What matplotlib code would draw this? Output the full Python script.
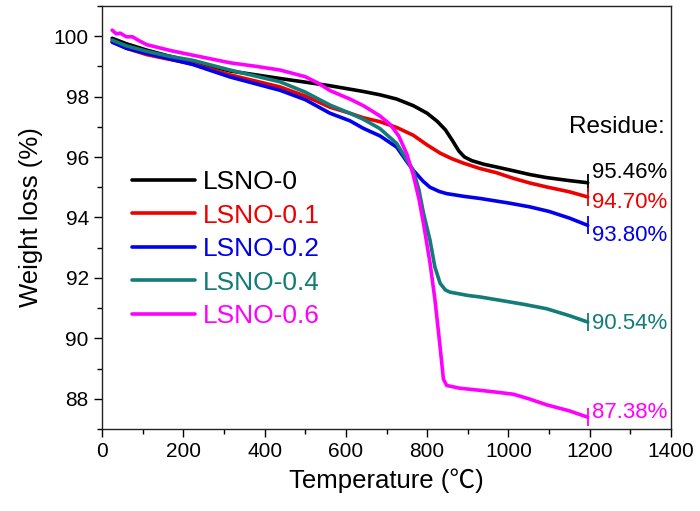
import matplotlib
matplotlib.use("Agg")
import matplotlib.pyplot as plt
from matplotlib.ticker import MultipleLocator

plt.rcParams['font.family'] = ['Liberation Sans', 'Noto Sans CJK SC', 'DejaVu Sans']

names = ["LSNO-0", "LSNO-0.1", "LSNO-0.2", "LSNO-0.4", "LSNO-0.6"]
colors = ["#000000", "#EE0000", "#0000EE", "#127C78", "#FF00FF"]
residue_labels = ["95.46%", "94.70%", "93.80%", "90.54%", "87.38%"]
residue_label_y = [95.50, 94.51, 93.41, 90.49, 87.56]

t_lsno0 = [25, 60, 110, 160, 224, 315, 438, 500, 561, 643, 684, 725, 766, 800, 825, 845, 862, 878, 892, 910, 940, 971, 1011, 1053, 1094, 1150, 1195]
w_lsno0 = [99.93, 99.75, 99.54, 99.36, 99.15, 98.85, 98.6, 98.48, 98.36, 98.17, 98.06, 97.92, 97.7, 97.45, 97.18, 96.9, 96.55, 96.2, 96.0, 95.88, 95.76, 95.67, 95.55, 95.42, 95.32, 95.22, 95.15]

t_lsno01 = [25, 60, 110, 160, 224, 315, 438, 500, 561, 610, 643, 684, 725, 766, 800, 832, 860, 889, 930, 971, 1011, 1053, 1094, 1150, 1195]
w_lsno01 = [99.83, 99.6, 99.39, 99.25, 99.08, 98.72, 98.32, 98.02, 97.65, 97.45, 97.3, 97.17, 96.98, 96.72, 96.4, 96.13, 95.95, 95.8, 95.62, 95.48, 95.3, 95.14, 95.01, 94.85, 94.68]

t_lsno02 = [25, 60, 110, 160, 224, 315, 438, 500, 561, 610, 643, 684, 725, 750, 766, 790, 807, 830, 848, 890, 930, 1000, 1053, 1100, 1150, 1195]
w_lsno02 = [99.8, 99.6, 99.43, 99.27, 99.06, 98.65, 98.21, 97.9, 97.45, 97.2, 96.95, 96.7, 96.33, 95.85, 95.56, 95.2, 95.0, 94.86, 94.79, 94.7, 94.63, 94.48, 94.35, 94.2, 93.98, 93.74]

t_lsno04 = [25, 60, 110, 160, 224, 315, 438, 500, 561, 610, 643, 684, 725, 750, 766, 780, 791, 807, 819, 832, 845, 856, 900, 930, 979, 1040, 1094, 1150, 1195]
w_lsno04 = [99.87, 99.68, 99.5, 99.35, 99.2, 98.88, 98.49, 98.15, 97.72, 97.45, 97.25, 96.94, 96.45, 95.9, 95.56, 94.9, 94.14, 93.25, 92.36, 91.82, 91.6, 91.53, 91.42, 91.37, 91.26, 91.12, 90.98, 90.75, 90.54]

t_lsno06 = [25, 35, 45, 60, 75, 90, 110, 140, 170, 224, 315, 380, 438, 500, 530, 561, 610, 643, 684, 709, 730, 750, 766, 780, 791, 807, 819, 832, 840, 848, 880, 930, 970, 1012, 1050, 1094, 1150, 1195]
w_lsno06 = [100.2, 100.08, 100.1, 99.98, 99.98, 99.86, 99.72, 99.62, 99.52, 99.37, 99.12, 99.0, 98.88, 98.66, 98.46, 98.2, 97.92, 97.7, 97.36, 97.08, 96.7, 96.1, 95.4, 94.6, 93.8, 92.5, 91.3, 89.7, 88.65, 88.44, 88.35, 88.28, 88.22, 88.15, 88.0, 87.8, 87.6, 87.39]

series_t = [t_lsno0, t_lsno01, t_lsno02, t_lsno04, t_lsno06]
series_w = [w_lsno0, w_lsno01, w_lsno02, w_lsno04, w_lsno06]

fig = plt.figure(figsize=(7.0, 5.11), dpi=100)
ax = fig.add_axes([0.1457, 0.1605, 0.8129, 0.8278])

for t, w, c, n in zip(series_t, series_w, colors, names):
    ax.plot(t, w, color=c, lw=2.6, label=n, solid_capstyle='round', solid_joinstyle='round')
    ax.plot([t[-1]], [w[-1]], marker='|', color=c, markersize=13, mew=1.3)

for lab, y, c in zip(residue_labels, residue_label_y, colors):
    ax.text(1206, y, lab, color=c, fontsize=16, ha='left', va='center')
ax.text(1150, 97.0, "Residue:", color='black', fontsize=17.5, ha='left', va='center')

ax.set_xlim(0, 1400)
ax.set_ylim(87, 101)
ax.xaxis.set_major_locator(MultipleLocator(200))
ax.xaxis.set_minor_locator(MultipleLocator(100))
ax.yaxis.set_major_locator(MultipleLocator(2))
ax.yaxis.set_minor_locator(MultipleLocator(1))
ax.tick_params(which='major', direction='out', length=6, width=1, labelsize=15, top=False, right=False)
ax.tick_params(which='minor', direction='out', length=3.5, width=1, top=False, right=False)
for s in ax.spines.values():
    s.set_linewidth(1.0)
    s.set_color('#222222')

ax.set_xlabel("Temperature (\u2103)", fontsize=18.5, labelpad=5)
ax.set_ylabel("Weight loss (%)", fontsize=18.5, labelpad=8)

leg = ax.legend(loc='upper left', bbox_to_anchor=(0.053, 0.612), frameon=False,
                fontsize=19, handlelength=2.4, handletextpad=0.27, labelspacing=0.36,
                borderpad=0, borderaxespad=0)
for txt, c in zip(leg.get_texts(), colors):
    txt.set_color(c)

fig.savefig("out.png", dpi=100)
